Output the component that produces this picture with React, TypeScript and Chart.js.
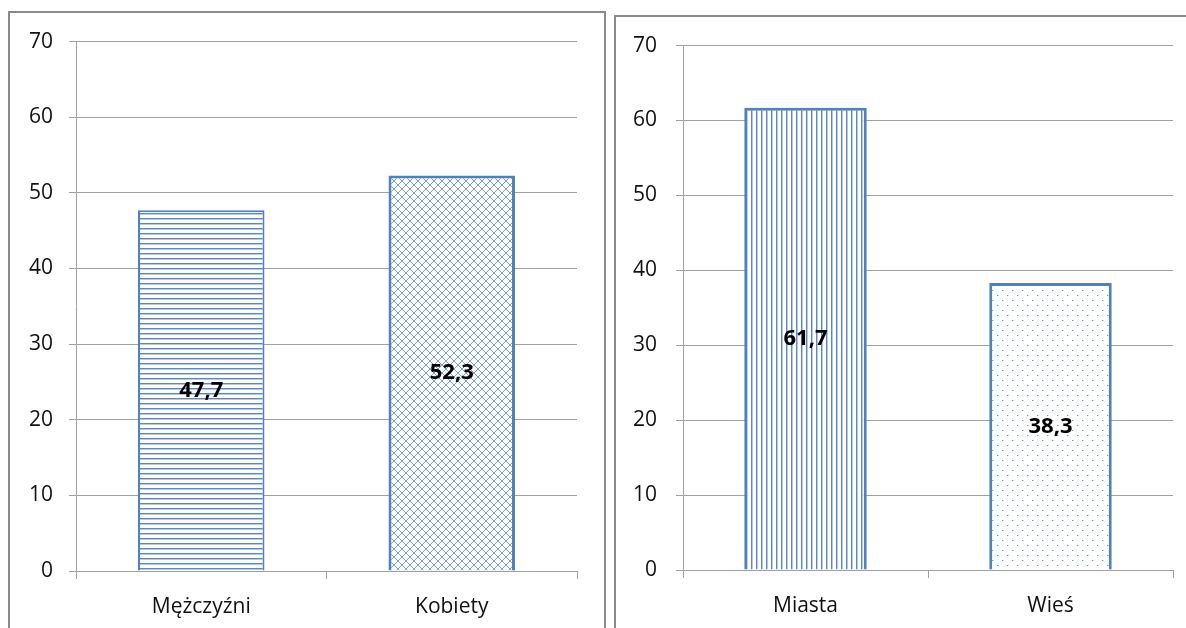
import React, { useEffect, useRef } from 'react';
import { Chart, registerables } from 'chart.js';

Chart.register(...registerables);

// ---- data ----
const genderCategories = ['Mężczyźni', 'Kobiety'];
const genderValues = [47.7, 52.3];
const placeCategories = ['Miasta', 'Wieś'];
const placeValues = [61.7, 38.3];
const yMin = 0;
const yMax = 70;
const yStep = 10;

const FONT = '"Open Sans", "Noto Sans", sans-serif';
const BLUE = '#4f81bd';
const GRID = '#a0a0a0';

type PatternKind = 'hlines' | 'vlines' | 'cross' | 'dots';

function makePattern(kind: PatternKind): CanvasPattern | string {
  const c = document.createElement('canvas');
  const size = kind === 'cross' ? 8 : kind === 'dots' ? 10 : 5;
  c.width = size;
  c.height = size;
  const ctx = c.getContext('2d');
  if (!ctx) return '#fff';
  ctx.fillStyle = '#ffffff';
  ctx.fillRect(0, 0, size, size);
  if (kind === 'hlines') {
    ctx.fillStyle = '#5d88c6';
    ctx.fillRect(0, 0, size, 1);
    ctx.fillStyle = 'rgba(93,136,198,0.45)';
    ctx.fillRect(0, 1, size, 1);
  } else if (kind === 'vlines') {
    ctx.fillStyle = '#5d88c6';
    ctx.fillRect(0, 0, 1, size);
    ctx.fillStyle = 'rgba(93,136,198,0.45)';
    ctx.fillRect(1, 0, 1, size);
  } else if (kind === 'cross') {
    ctx.fillStyle = '#7aa0d4';
    for (let i = 0; i < size; i++) {
      ctx.fillRect(i, i, 1, 1);
      ctx.fillRect(size - 1 - i, i, 1, 1);
    }
  } else {
    ctx.fillStyle = '#6a92cc';
    ctx.fillRect(1, 1, 1, 1);
    ctx.fillRect(6, 6, 1, 1);
    ctx.fillStyle = 'rgba(106,146,204,0.35)';
    ctx.fillRect(2, 1, 1, 1);
    ctx.fillRect(7, 6, 1, 1);
  }
  const p = ctx.createPattern(c, 'repeat');
  return p || '#fff';
}

const fmt = (v: number) => v.toFixed(1).replace('.', ',');

const valueLabels = {
  id: 'valueLabels',
  afterDatasetsDraw(chart: any) {
    const ctx = chart.ctx;
    const meta = chart.getDatasetMeta(0);
    const data = chart.data.datasets[0].data as number[];
    ctx.save();
    ctx.font = `bold 22px ${FONT}`;
    ctx.fillStyle = '#000';
    ctx.textAlign = 'center';
    ctx.textBaseline = 'middle';
    meta.data.forEach((el: any, i: number) => {
      const { x, y, base } = el.getProps(['x', 'y', 'base'], true);
      ctx.fillText(fmt(data[i]), x, (y + base) / 2);
    });
    ctx.restore();
  },
};

interface PanelProps {
  categories: string[];
  values: number[];
  patterns: PatternKind[];
  borderWidths: number[];
  width: number;
  height: number;
  yAxisWidth: number;
  yLabelPad: number;
  xAxisHeight: number;
  padTop: number;
  padRight: number;
  barPct: number;
}

function Panel(props: PanelProps) {
  const ref = useRef<HTMLCanvasElement>(null);
  useEffect(() => {
    if (!ref.current) return;
    const chart = new Chart(ref.current, {
      type: 'bar',
      data: {
        labels: props.categories,
        datasets: [
          {
            data: props.values,
            backgroundColor: props.patterns.map((k) => makePattern(k)) as any,
            borderColor: BLUE,
            borderWidth: props.borderWidths,
            categoryPercentage: 1,
            barPercentage: props.barPct,
          },
        ],
      },
      options: {
        animation: false,
        responsive: false,
        maintainAspectRatio: false,
        layout: { padding: { top: props.padTop, right: props.padRight, left: 0, bottom: 0 } },
        plugins: { legend: { display: false }, tooltip: { enabled: false } },
        scales: {
          x: {
            grid: {
              display: true,
              offset: true,
              drawOnChartArea: false,
              drawTicks: true,
              tickLength: 8,
              color: GRID,
            },
            border: { display: true, color: GRID, width: 1 },
            ticks: { color: '#111', font: { family: FONT, size: 21 }, padding: 15 },
            afterFit: (scale: any) => {
              scale.height = props.xAxisHeight;
            },
          },
          y: {
            min: yMin,
            max: yMax,
            grid: { color: GRID, tickLength: 7, drawTicks: true },
            border: { display: true, color: GRID, width: 1 },
            ticks: {
              stepSize: yStep,
              color: '#111',
              font: { family: FONT, size: 21 },
              padding: props.yLabelPad,
            },
            afterFit: (scale: any) => {
              scale.width = props.yAxisWidth;
            },
          },
        },
      },
      plugins: [valueLabels],
    });
    return () => chart.destroy();
  }, []);
  return <canvas ref={ref} width={props.width} height={props.height} style={{ display: 'block' }} />;
}

export default function App() {
  return (
    <div
      style={{
        position: 'absolute',
        left: 0,
        top: 0,
        width: 1186,
        height: 628,
        overflow: 'hidden',
        background: '#fff',
      }}
    >
      <div
        style={{
          position: 'absolute',
          left: 8,
          top: 11,
          width: 598,
          height: 660,
          border: '2px solid #8a8a8a',
          boxSizing: 'border-box',
        }}
      />
      <div
        style={{
          position: 'absolute',
          left: 614,
          top: 15,
          width: 620,
          height: 660,
          border: '2px solid #8a8a8a',
          boxSizing: 'border-box',
        }}
      />
      <div style={{ position: 'absolute', left: 10, top: 13 }}>
        <Panel
          categories={genderCategories}
          values={genderValues}
          patterns={['hlines', 'cross']}
          borderWidths={[2, 3]}
          width={594}
          height={615}
          yAxisWidth={66}
          yLabelPad={16}
          xAxisHeight={57}
          padTop={28}
          padRight={27}
          barPct={0.505}
        />
      </div>
      <div style={{ position: 'absolute', left: 616, top: 14 }}>
        <Panel
          categories={placeCategories}
          values={placeValues}
          patterns={['vlines', 'dots']}
          borderWidths={[3, 3]}
          width={570}
          height={614}
          yAxisWidth={67}
          yLabelPad={19}
          xAxisHeight={58}
          padTop={22}
          padRight={13}
          barPct={0.5}
        />
      </div>
    </div>
  );
}
